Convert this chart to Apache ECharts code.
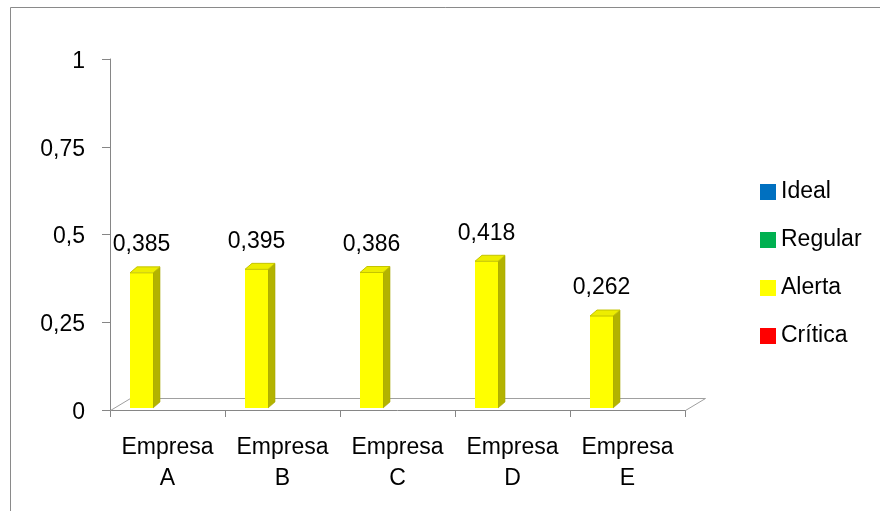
<!DOCTYPE html>
<html><head><meta charset="utf-8">
<script src="https://cdn.jsdelivr.net/npm/echarts@6/dist/echarts.min.js"></script>
<style>html,body{margin:0;padding:0;background:#fff}#c{width:880px;height:511px}</style>
</head><body><div id="c"></div>
<script>
const categories = ['Empresa A', 'Empresa B', 'Empresa C', 'Empresa D', 'Empresa E'];
const seriesNames = ['Ideal', 'Regular', 'Alerta', 'Crítica'];
const seriesColors = ['#0070C0', '#00B050', '#FFFF00', '#FF0000'];
const idealValues = [];
const regularValues = [];
const alertaValues = [0.385, 0.395, 0.386, 0.418, 0.262];
const criticaValues = [];
const yTickValues = [0, 0.25, 0.5, 0.75, 1];

const FONT = '"Liberation Sans", Arial, sans-serif';
const fmt = v => String(+v.toFixed(3)).replace('.', ',');

function renderBar(params, api) {
  const idx = api.value(0), v = api.value(1);
  const c = api.coord([idx, v]);
  const c0 = api.coord([idx, 0]);
  const band = api.size([1, 0])[0];
  const left = Math.round(c[0] - band / 2 + band * 0.178);
  const w = Math.round(band * 0.2);
  const lift = 2;
  const yb = c0[1] - lift, yt = c[1] - lift;
  const dx = 7, dy = 6;
  return {
    type: 'group',
    children: [
      { type: 'polygon', shape: { points: [[left + w, yb], [left + w + dx, yb - dy], [left + w + dx, yt - dy], [left + w, yt]] },
        style: { fill: '#B3B300', stroke: '#A8A800', lineWidth: 0.6 } },
      { type: 'rect', shape: { x: left, y: yt, width: w, height: yb - yt }, style: { fill: '#FFFF00' } },
      { type: 'polygon', shape: { points: [[left, yt], [left + dx, yt - dy], [left + w + dx, yt - dy], [left + w, yt]] },
        style: { fill: '#EDED00', stroke: '#C4C400', lineWidth: 1 } },
      { type: 'text', style: { text: fmt(v), x: left + w / 2, y: yt - dy - 22, align: 'center', verticalAlign: 'middle',
        fontSize: 23, fontFamily: FONT, fill: '#000' } }
    ]
  };
}

const valueSets = [idealValues, regularValues, alertaValues, criticaValues];
const series = seriesNames.map((name, k) => ({
  name: name,
  type: 'custom',
  renderItem: renderBar,
  clip: false,
  z: 3,
  itemStyle: { color: seriesColors[k] },
  encode: { x: 0, y: 1 },
  data: valueSets[k].map((v, i) => [i, v])
}));

const chart = echarts.init(document.getElementById('c'), null, { renderer: 'canvas' });
chart.setOption({
  backgroundColor: '#fff',
  animation: false,
  grid: { left: 110, top: 59, width: 575, height: 351, containLabel: false },
  legend: {
    orient: 'vertical', left: 755, top: 175,
    icon: 'rect', itemWidth: 16, itemHeight: 16, itemGap: 24,
    data: seriesNames,
    textStyle: { fontSize: 23, fontFamily: FONT, color: '#000', lineHeight: 24 },
    selectedMode: false
  },
  xAxis: {
    type: 'category', data: categories,
    axisLine: { lineStyle: { color: '#868686' } },
    axisTick: { show: true, length: 7, lineStyle: { color: '#868686' } },
    axisLabel: { formatter: v => v.replace(' ', '\n'), fontSize: 23, fontFamily: FONT, color: '#000', lineHeight: 31, margin: 22, interval: 0 },
    splitLine: { show: false }
  },
  yAxis: {
    type: 'value', min: yTickValues[0], max: yTickValues[yTickValues.length - 1], interval: yTickValues[1] - yTickValues[0],
    axisLine: { show: true, lineStyle: { color: '#868686' } },
    axisTick: { show: true, length: 8, lineStyle: { color: '#868686' } },
    axisLabel: {
      formatter: v => '{t|' + fmt(v) + '}', margin: 25,
      rich: { t: { fontSize: 23, fontFamily: FONT, color: '#000', padding: [5, 0, 0, 0] } }
    },
    splitLine: { show: false }
  },
  graphic: [
    { type: 'rect', z: 0, shape: { x: 10.5, y: 7.5, width: 1000, height: 1000 }, style: { fill: 'none', stroke: '#8A8A8A', lineWidth: 1 } },
    { type: 'polyline', z: 1, shape: { points: [[110.5, 410.5], [130.5, 398.5], [705.5, 398.5], [685.5, 410.5]] },
      style: { fill: 'none', stroke: '#A0A0A0', lineWidth: 1 } }
  ],
  series: series
});
</script>
</body></html>
